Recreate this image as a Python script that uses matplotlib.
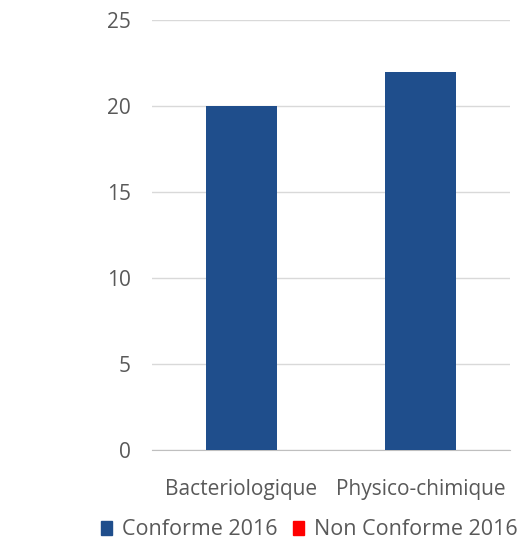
import matplotlib.pyplot as plt
from matplotlib.patches import Patch

categories = ["Bacteriologique", "Physico-chimique"]
conforme_2016 = [20, 22]
non_conforme_2016 = [0, 0]
yticks = [0, 5, 10, 15, 20, 25]

blue = "#1f4e8c"
red = "#ff0000"
grey_text = "#595959"

plt.rcParams["font.family"] = ["Open Sans", "DejaVu Sans"]

fig = plt.figure(figsize=(5.29, 5.43), dpi=100)
ax = fig.add_axes([0.287, 0.171, 0.677, 0.792])

x = range(len(categories))
ax.bar(x, conforme_2016, width=0.4, color=blue, zorder=3)

ax.set_xlim(-0.5, len(categories) - 0.5)
ax.set_ylim(0, 25)
ax.set_yticks(yticks)
ax.set_xticks(list(x))
ax.set_xticklabels(categories)

ax.grid(axis="y", color="#d9d9d9", linewidth=1, zorder=0)
for side in ["top", "right", "left"]:
    ax.spines[side].set_visible(False)
ax.spines["bottom"].set_color("#bfbfbf")
ax.tick_params(axis="both", length=0, labelsize=15, colors=grey_text)
ax.tick_params(axis="y", pad=15)
ax.tick_params(axis="x", pad=21)

handles = [Patch(color=blue, label="Conforme 2016"),
           Patch(color=red, label="Non Conforme 2016")]
fig.legend(handles=handles, loc="center left", bbox_to_anchor=(0.19, 0.024),
           ncol=2, frameon=False, fontsize=15.5, labelcolor=grey_text,
           handlelength=0.55, handleheight=0.65, handletextpad=0.45,
           columnspacing=0.7, borderpad=0, borderaxespad=0)

fig.savefig("out.png", dpi=100, facecolor="white")
